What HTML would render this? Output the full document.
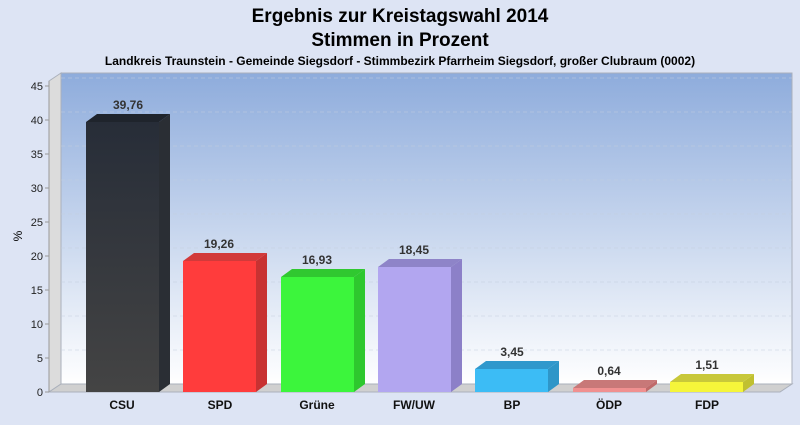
<!DOCTYPE html>
<html><head><meta charset="utf-8"><style>
body{margin:0;width:800px;height:420px;overflow:hidden;background:#dde4f4;font-family:"Liberation Sans",Arial,sans-serif}
</style></head><body>
<svg width="800" height="420" xmlns="http://www.w3.org/2000/svg" font-family="Liberation Sans, Arial, sans-serif">
<defs>
<linearGradient id="bg" x1="0" y1="0" x2="0" y2="1"><stop offset="0" stop-color="#8eacdc"/><stop offset="1" stop-color="#ffffff"/></linearGradient>
<linearGradient id="csu" x1="0" y1="0" x2="0" y2="1"><stop offset="0" stop-color="#272d38"/><stop offset="1" stop-color="#444444"/></linearGradient>
</defs>
<rect width="800" height="420" fill="#dde4f4"/>
<text x="400" y="22" font-size="19" font-weight="bold" text-anchor="middle">Ergebnis zur Kreistagswahl 2014</text>
<text x="400" y="46" font-size="19" font-weight="bold" text-anchor="middle">Stimmen in Prozent</text>
<text x="400" y="65" font-size="12" font-weight="bold" text-anchor="middle">Landkreis Traunstein - Gemeinde Siegsdorf - Stimmbezirk Pfarrheim Siegsdorf, großer Clubraum (0002)</text>
<rect x="61" y="73" width="731" height="311" fill="url(#bg)" stroke="#aab0bb"/>
<polygon points="49,81 61,73 61,384 49,392" fill="#dcdcdc" stroke="#aab0bb"/>
<polygon points="49,392 61,384 792,384 780,392" fill="#d0d0d0" stroke="#aab0bb"/>
<g stroke="#c4cddd" stroke-opacity="0.5" stroke-dasharray="4,3">
<line x1="61" y1="350" x2="792" y2="350"/><line x1="61" y1="316" x2="792" y2="316"/><line x1="61" y1="282" x2="792" y2="282"/><line x1="61" y1="248" x2="792" y2="248"/><line x1="61" y1="214" x2="792" y2="214"/><line x1="61" y1="180" x2="792" y2="180"/><line x1="61" y1="146" x2="792" y2="146"/><line x1="61" y1="112" x2="792" y2="112"/><line x1="61" y1="78" x2="792" y2="78"/>
</g>
<line x1="49" y1="81" x2="49" y2="392" stroke="#999"/>
<g font-size="11" text-anchor="end" fill="#222">
<text x="43" y="396">0</text><text x="43" y="362">5</text><text x="43" y="328">10</text><text x="43" y="294">15</text><text x="43" y="260">20</text><text x="43" y="226">25</text><text x="43" y="192">30</text><text x="43" y="158">35</text><text x="43" y="124">40</text><text x="43" y="90">45</text>
</g>
<g stroke="#999"><line x1="45" y1="392" x2="49" y2="392"/><line x1="45" y1="358" x2="49" y2="358"/><line x1="45" y1="324" x2="49" y2="324"/><line x1="45" y1="290" x2="49" y2="290"/><line x1="45" y1="256" x2="49" y2="256"/><line x1="45" y1="222" x2="49" y2="222"/><line x1="45" y1="188" x2="49" y2="188"/><line x1="45" y1="154" x2="49" y2="154"/><line x1="45" y1="120" x2="49" y2="120"/><line x1="45" y1="86" x2="49" y2="86"/></g>
<text x="22" y="236" font-size="12" text-anchor="middle" transform="rotate(-90 22 236)">%</text>
<g font-size="12" font-weight="bold" text-anchor="middle" fill="#333">
<polygon points="159,122 170,114 170,384 159,392" fill="#2a2e34"/>
<polygon points="86,122 97,114 170,114 159,122" fill="#1f242c"/>
<rect x="86" y="122" width="73" height="270" fill="url(#csu)"/>
<text x="128" y="109">39,76</text>
<polygon points="256,261 267,253 267,384 256,392" fill="#c83232"/>
<polygon points="183,261 194,253 267,253 256,261" fill="#d23a3a"/>
<rect x="183" y="261" width="73" height="131" fill="#ff3c3c"/>
<text x="219" y="248">19,26</text>
<polygon points="354,277 365,269 365,384 354,392" fill="#2ec82e"/>
<polygon points="281,277 292,269 365,269 354,277" fill="#30c830"/>
<rect x="281" y="277" width="73" height="115" fill="#3cf53c"/>
<text x="317" y="264">16,93</text>
<polygon points="451,267 462,259 462,384 451,392" fill="#8c80c8"/>
<polygon points="378,267 389,259 462,259 451,267" fill="#8e84c8"/>
<rect x="378" y="267" width="73" height="125" fill="#b2a6f0"/>
<text x="414" y="254">18,45</text>
<polygon points="548,369 559,361 559,384 548,392" fill="#2e96c8"/>
<polygon points="475,369 486,361 559,361 548,369" fill="#3098cc"/>
<rect x="475" y="369" width="73" height="23" fill="#3cbcf5"/>
<text x="512" y="356">3,45</text>
<polygon points="646,388 657,380 657,384 646,392" fill="#c06a6a"/>
<polygon points="573,388 584,380 657,380 646,388" fill="#c87878"/>
<rect x="573" y="388" width="73" height="4" fill="#f09090"/>
<text x="609" y="375">0,64</text>
<polygon points="743,382 754,374 754,384 743,392" fill="#c0c030"/>
<polygon points="670,382 681,374 754,374 743,382" fill="#c8c83a"/>
<rect x="670" y="382" width="73" height="10" fill="#f5f53a"/>
<text x="707" y="369">1,51</text>
</g>
<g font-size="12" font-weight="bold" text-anchor="middle" fill="#111">
<text x="122" y="409">CSU</text><text x="220" y="409">SPD</text><text x="317" y="409">Grüne</text><text x="414" y="409">FW/UW</text><text x="512" y="409">BP</text><text x="609" y="409">ÖDP</text><text x="707" y="409">FDP</text>
</g>
</svg>
</body></html>
